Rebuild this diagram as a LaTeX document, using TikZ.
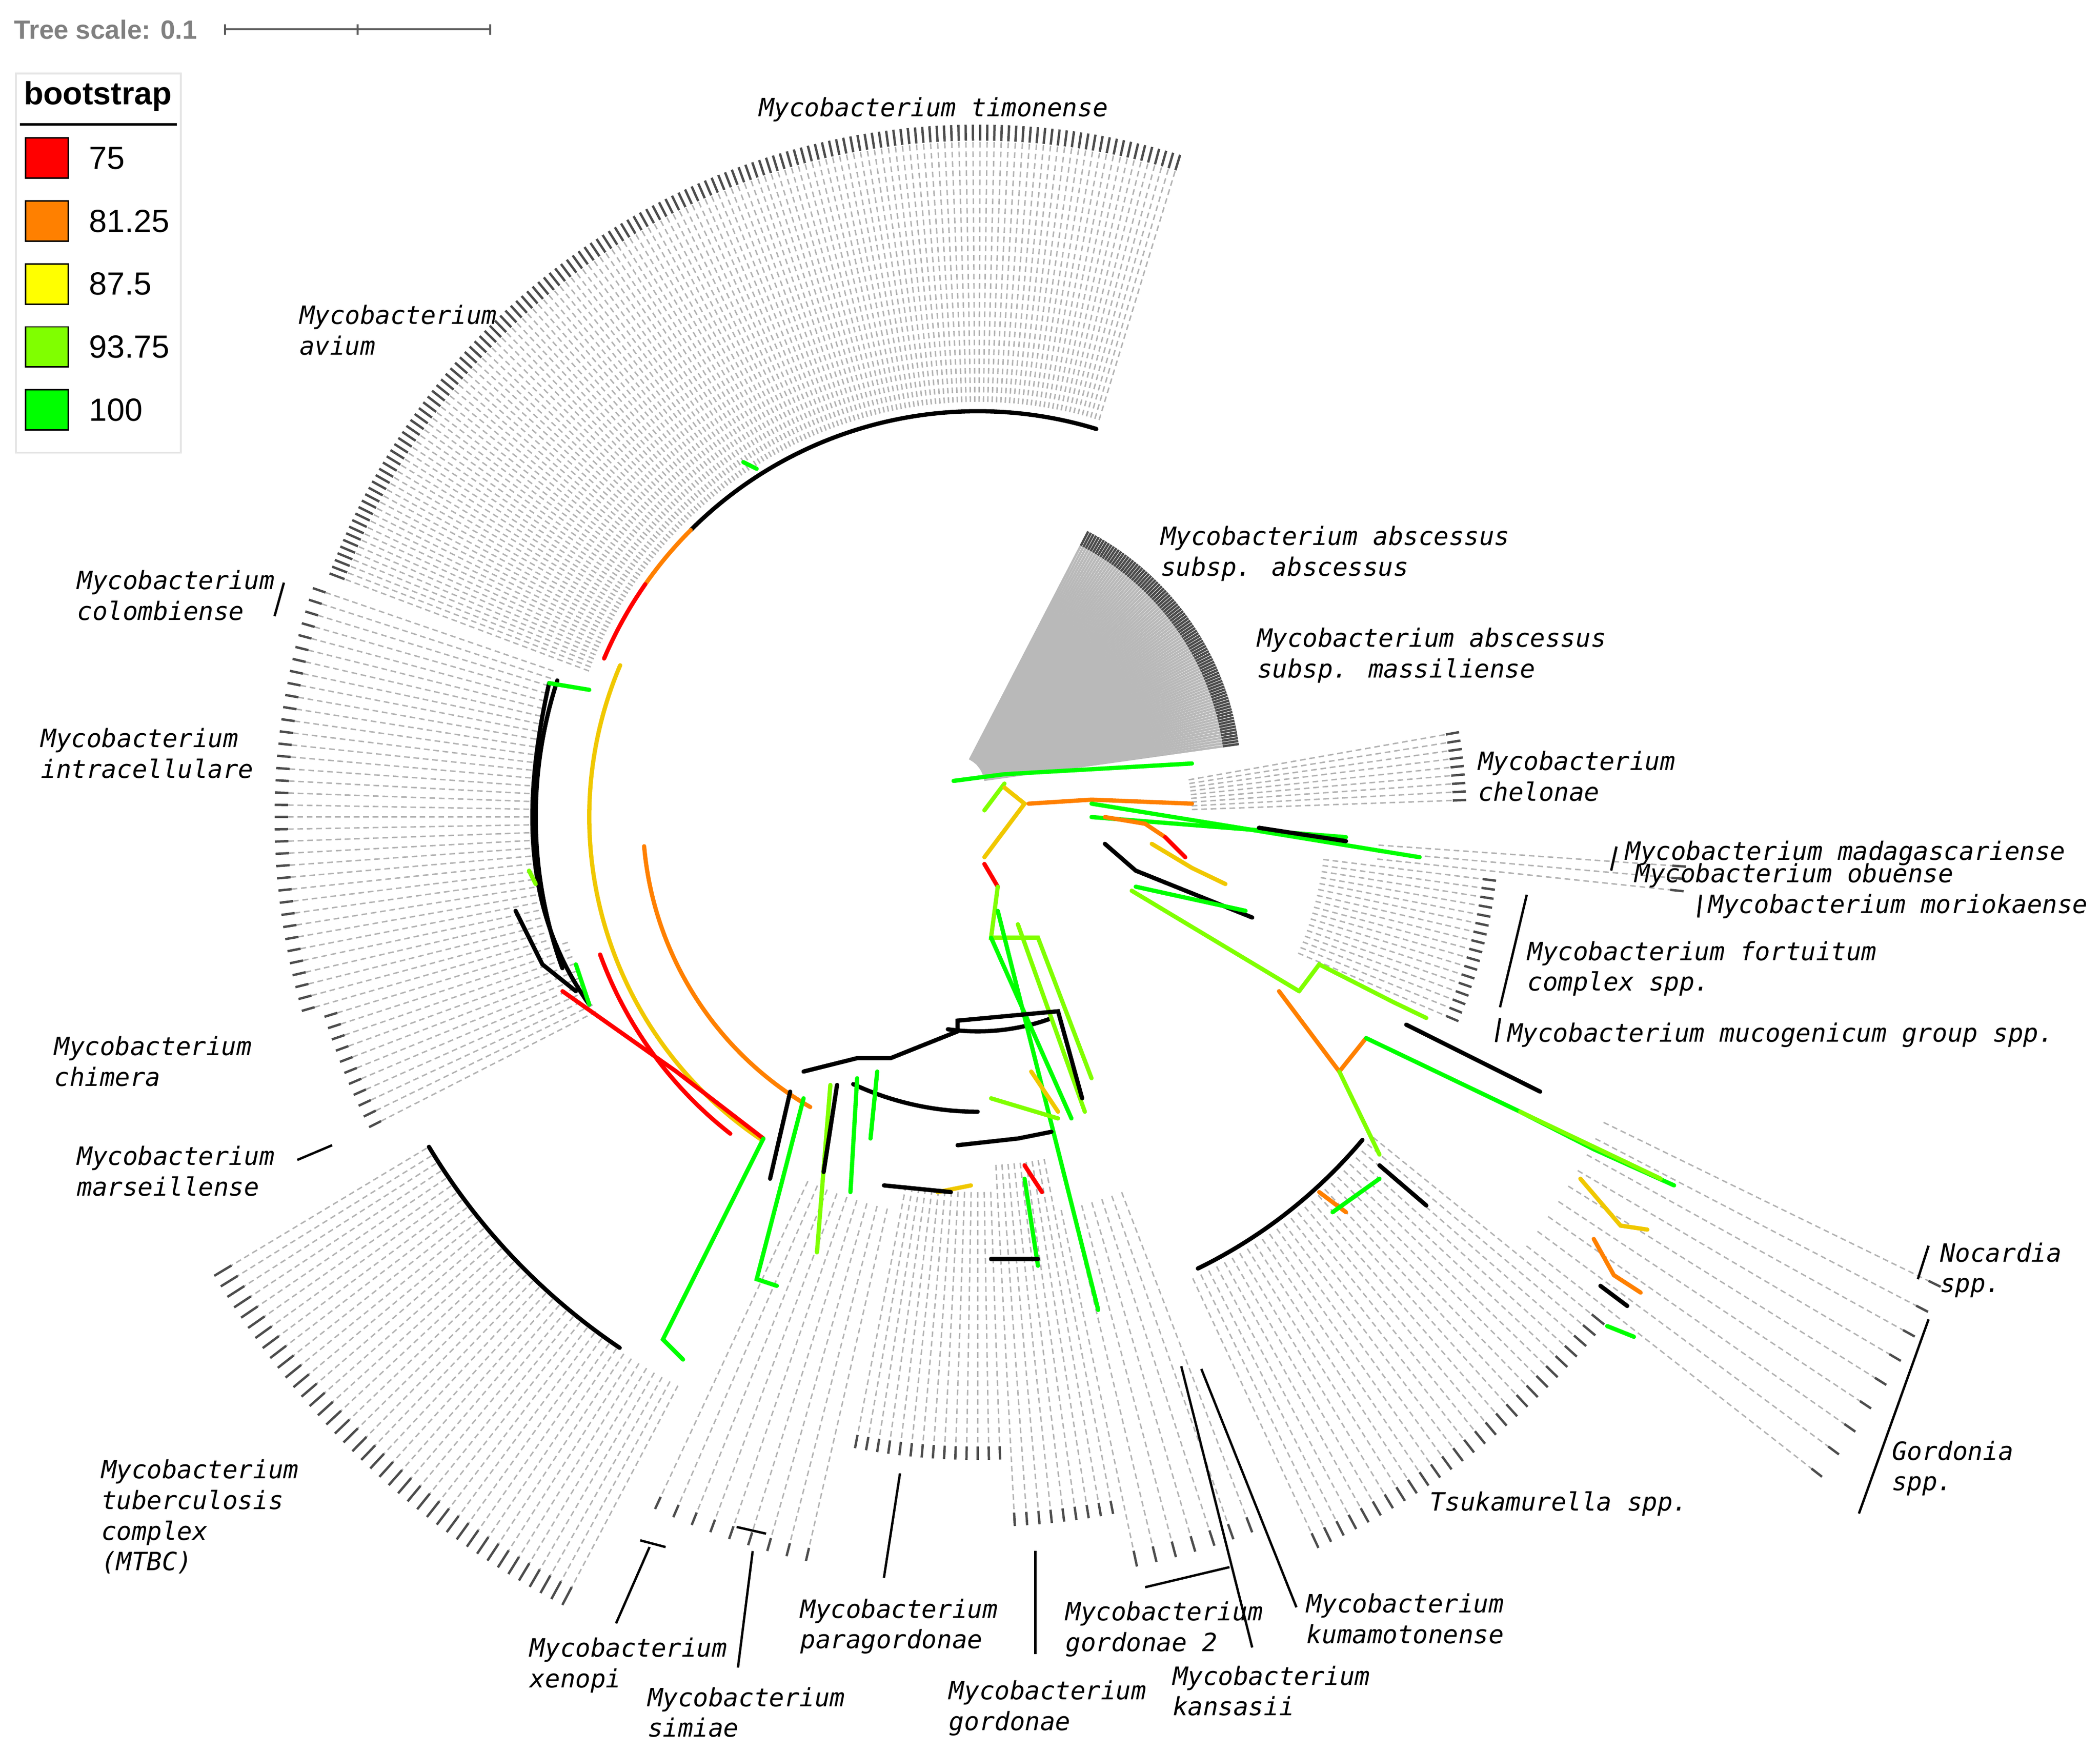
\documentclass[tikz,border=0pt]{standalone}
\usepackage{fontspec}
\setmainfont{Liberation Sans}
\newfontfamily\labfont{DejaVu Sans Mono}
\usetikzlibrary{positioning}
\definecolor{bsred}{RGB}{255,0,0}
\definecolor{bsorange}{RGB}{255,128,0}
\definecolor{bsyellow}{RGB}{255,255,0}
\definecolor{bslime}{RGB}{128,255,0}
\definecolor{bsgreen}{RGB}{0,255,0}
\definecolor{brY}{RGB}{240,200,0}
\begin{document}
\begin{tikzpicture}[x=0.01cm,y=-0.01cm,
  leaf/.style={gray!60,dash pattern=on 1.2pt off 0.8pt,line width=0.3pt},
  solidleaf/.style={gray!55,line width=0.5pt},
  tip/.style={black!70,line width=0.5pt},
  br/.style={line width=0.9pt,line cap=round},
  lab/.style={font=\labfont\itshape\fontsize{5.35}{6.5}\selectfont,align=left,anchor=north west,inner sep=0pt},
  pointer/.style={black,line width=0.5pt}]
\useasboundingbox (0,0) rectangle (1568,1308);
% scale bar
\node[font=\bfseries\fontsize{5.6}{6}\selectfont,text=gray,anchor=west,inner sep=0pt] (scaletxt) at (10,22) {Tree scale: 0.1};
\coordinate (sb1) at (168,22);
\coordinate (sb2) at (366,22);
\draw[gray!70!black,line width=0.4pt] (sb1) -- (sb2);
\foreach \x in {168,267,366} \draw[gray!70!black,line width=0.4pt] (\x,18) -- (\x,26);
% legend
\draw[gray!20,fill=white] (12,55) rectangle (135,338);
\node[font=\bfseries\fontsize{6.8}{7}\selectfont,inner sep=0pt] (legtitle) at (73,72) {bootstrap};
\draw[black,line width=0.5pt] (15,93) -- (132,93);
\foreach \c/\v [count=\i from 0] in {bsred/75,bsorange/81.25,bsyellow/87.5,bslime/93.75,bsgreen/100} {
  \draw[fill=\c,line width=0.3pt] (19,{103+47*\i}) rectangle (51,{133+47*\i});
  \node[anchor=west,font=\fontsize{6.8}{7}\selectfont,inner sep=0pt] (leg\i) at (66,{118+47*\i}) {\v};
}
% radial leaf lines
\begin{scope}[shift={(730,610)},yscale=-1]
  \foreach \a in {73,73.6,...,160} {\draw[leaf] (\a:310) -- (\a:505); \draw[tip] (\a:505) -- (\a:517);}
  \foreach \a in {161,162,...,196} {\draw[leaf] (\a:335) -- (\a:515); \draw[tip] (\a:515) -- (\a:525);}
  \foreach \a in {197,198,...,207} {\draw[leaf] (\a:320) -- (\a:500); \draw[tip] (\a:500) -- (\a:510);}
  \foreach \a in {211,211.8,...,243} {\draw[leaf] (\a:480) -- (\a:650); \draw[tip] (\a:650) -- (\a:665);}
  \foreach \a in {245,246.5,...,258} {\draw[leaf] (\a:300) -- (\a:560); \draw[tip] (\a:560) -- (\a:570);}
  \foreach \a in {259,260,...,272} {\draw[leaf] (\a:280) -- (\a:470); \draw[tip] (\a:470) -- (\a:480);}
  \foreach \a in {273,274,...,281} {\draw[leaf] (\a:260) -- (\a:520); \draw[tip] (\a:520) -- (\a:530);}
  \foreach \a in {282,283.5,...,292} {\draw[leaf] (\a:300) -- (\a:560); \draw[tip] (\a:560) -- (\a:572);}
  \foreach \a in {295,296,...,321} {\draw[leaf] (\a:380) -- (\a:590); \draw[tip] (\a:590) -- (\a:602);}
  \foreach \a in {322,323.5,...,334} {\draw[leaf] (\a:520) -- (\a:790); \draw[tip] (\a:790) -- (\a:800);}
  \foreach \a in {337,338,...,353} {\draw[leaf] (\a:260) -- (\a:380); \draw[tip] (\a:380) -- (\a:390);}
  \foreach \a in {354,355,356} {\draw[leaf] (\a:300) -- (\a:520); \draw[tip] (\a:520) -- (\a:530);}
  \foreach \a in {2,3,...,10} {\draw[leaf] (\a:160) -- (\a:355); \draw[tip] (\a:355) -- (\a:365);}
  % backbone arcs
  \draw[br,black] (73:303) arc[start angle=73,end angle=135,radius=303];
  \draw[br,bsorange] (135:303) arc[start angle=135,end angle=145,radius=303];
  \draw[br,bsred] (145:303) arc[start angle=145,end angle=157,radius=303];
  \draw[br,black] (162:330) arc[start angle=162,end angle=200,radius=330];
  \draw[br,brY] (157:290) arc[start angle=157,end angle=236,radius=290];
  \draw[br,bsorange] (185:250) arc[start angle=185,end angle=240,radius=250];
  \draw[br,bsred] (200:300) arc[start angle=200,end angle=232,radius=300];
  \draw[br,black] (211:478) arc[start angle=211,end angle=236,radius=478];
  \draw[br,black] (245:220) arc[start angle=245,end angle=270,radius=220];
  \draw[br,black] (296:375) arc[start angle=296,end angle=320,radius=375];
  \draw[br,black] (262:160) arc[start angle=262,end angle=290,radius=160];
\end{scope}
% abscessus fan
\begin{scope}[shift={(715,585)},yscale=-1]
  \foreach \a in {8,8.6,...,63} {\draw[solidleaf] (\a:20) -- (\a:200); \draw[tip] (\a:200) -- (\a:212);}
\end{scope}
% branches: right side
\draw[br,bsgreen] (712,583) -- (750,578) -- (890,570);
\draw[br,bslime] (735,605) -- (750,585);
\draw[br,brY] (735,640) -- (765,600) -- (750,588);
\draw[br,bsorange] (768,600) -- (815,597) -- (890,600);
\draw[br,bsgreen] (815,600) -- (1060,640);
\draw[br,bsgreen] (815,610) -- (1005,625);
\draw[br,black] (940,618) -- (1005,628);
\draw[br,bsorange] (825,610) -- (855,615) -- (870,625);
\draw[br,bsred] (870,625) -- (885,640);
\draw[br,brY] (860,630) -- (890,648) -- (915,660);
\draw[br,black] (825,630) -- (848,650) -- (935,685);
\draw[br,bsgreen] (848,662) -- (930,680);
\draw[br,bslime] (845,665) -- (970,740);
\draw[br,bslime] (970,740) -- (985,720) -- (1040,748) -- (1065,760);
\draw[br,black] (1050,765) -- (1150,815);
\draw[br,bsorange] (955,740) -- (1000,800) -- (1020,775);
\draw[br,bsgreen] (1020,775) -- (1135,830) -- (1190,858) -- (1250,885);
\draw[br,bslime] (1135,830) -- (1240,880);
\draw[br,brY] (1180,880) -- (1210,915) -- (1230,918);
\draw[br,bsorange] (1190,925) -- (1205,952) -- (1225,965);
\draw[br,black] (1195,960) -- (1215,975);
\draw[br,bsgreen] (1200,990) -- (1220,998);
\draw[br,bslime] (1000,800) -- (1030,862);
\draw[br,bsorange] (985,890) -- (1005,905);
\draw[br,bsgreen] (995,905) -- (1030,880);
\draw[br,black] (1030,870) -- (1065,900);
% branches: middle
\draw[br,bsred] (735,645) -- (745,662);
\draw[br,bslime] (745,662) -- (740,700) -- (775,700) -- (815,805);
\draw[br,bsgreen] (745,680) -- (820,978);
\draw[br,bsgreen] (740,700) -- (800,835);
\draw[br,bslime] (760,690) -- (810,830);
\draw[br,black] (715,770) -- (715,762) -- (790,755) -- (808,820);
\draw[br,brY] (770,800) -- (790,830);
\draw[br,bslime] (740,820) -- (790,835);
\draw[br,black] (715,855) -- (760,850) -- (785,845);
\draw[br,bsred] (765,870) -- (778,890);
\draw[br,bsgreen] (765,880) -- (775,945);
\draw[br,brY] (700,890) -- (725,885);
\draw[br,black] (660,885) -- (710,890);
\draw[br,black] (740,940) -- (775,940);
\draw[br,black] (600,800) -- (640,790) -- (665,790) -- (715,770);
% branches: left
\draw[br,bsred] (420,740) -- (505,800) -- (570,850);
\draw[br,bsgreen] (570,850) -- (495,1000) -- (510,1015);
\draw[br,bsgreen] (600,820) -- (565,955) -- (580,960);
\draw[br,bslime] (620,810) -- (610,935);
\draw[br,bsgreen] (640,805) -- (635,890);
\draw[br,black] (590,815) -- (575,880);
\draw[br,black] (625,810) -- (615,875);
\draw[br,bsgreen] (655,800) -- (650,850);
\draw[br,black] (410,510) .. controls (390,600) and (390,680) .. (440,750);
\draw[br,bsgreen] (410,510) -- (440,515);
\draw[br,black] (385,680) -- (405,720) -- (430,740);
\draw[br,bsgreen] (430,720) -- (440,750);
\draw[br,bslime] (395,650) -- (400,660);
\draw[br,bsgreen] (555,345) -- (565,350);
% labels
\node[lab,anchor=north] (timon) at (697,72) {Mycobacterium timonense};
\node[lab] (avium) at (223,227) {Mycobacterium\\avium};
\node[lab] (colomb) at (57,425) {Mycobacterium\\colombiense};
\node[lab] (intra) at (30,543) {Mycobacterium\\intracellulare};
\node[lab] (chim) at (40,773) {Mycobacterium\\chimera};
\node[lab] (marse) at (57,855) {Mycobacterium\\marseillense};
\node[lab] (mtbc) at (75,1089) {Mycobacterium\\tuberculosis\\complex\\(MTBC)};
\node[lab] (xen) at (395,1222) {Mycobacterium\\xenopi};
\node[lab] (sim) at (483,1259) {Mycobacterium\\simiae};
\node[lab] (parag) at (597,1193) {Mycobacterium\\paragordonae};
\node[lab] (gord) at (708,1254) {Mycobacterium\\gordonae};
\node[lab] (gord2) at (795,1195) {Mycobacterium\\gordonae 2};
\node[lab] (kans) at (875,1243) {Mycobacterium\\kansasii};
\node[lab] (kuma) at (975,1189) {Mycobacterium\\kumamotonense};
\node[lab] (tsuka) at (1067,1113) {Tsukamurella spp.};
\node[lab] (gordo) at (1412,1075) {Gordonia\\spp.};
\node[lab] (nocar) at (1448,927) {Nocardia\\spp.};
\node[lab] (mucog) at (1125,763) {Mycobacterium mucogenicum group spp.};
\node[lab] (fortu) at (1140,702) {Mycobacterium fortuitum\\complex spp.};
\node[lab] (morio) at (1275,667) {Mycobacterium moriokaense};
\node[lab] (obuen) at (1220,644) {Mycobacterium obuense};
\node[lab] (madag) at (1213,627) {Mycobacterium madagascariense};
\node[lab] (chelo) at (1103,560) {Mycobacterium\\chelonae};
\node[lab] (massi) at (938,468) {Mycobacterium abscessus\\subsp. massiliense};
\node[lab] (absce) at (866,392) {Mycobacterium abscessus\\subsp. abscessus};
% pointer lines
\draw[pointer] (205,460) -- (212,435);
\draw[pointer] (222,866) -- (248,855);
\draw[pointer] (460,1212) -- (485,1155);
\draw[pointer] (478,1150) -- (497,1155);
\draw[pointer] (551,1245) -- (562,1158);
\draw[pointer] (550,1140) -- (572,1145);
\draw[pointer] (660,1178) -- (672,1100);
\draw[pointer] (773,1235) -- (773,1158);
\draw[pointer] (855,1185) -- (918,1170);
\draw[pointer] (935,1230) -- (882,1020);
\draw[pointer] (968,1200) -- (897,1022);
\draw[pointer] (1388,1130) -- (1440,985);
\draw[pointer] (1432,955) -- (1440,930);
\draw[pointer] (1117,778) -- (1120,760);
\draw[pointer] (1120,752) -- (1140,668);
\draw[pointer] (1268,685) -- (1270,668);
\draw[pointer] (1203,650) -- (1207,632);
\end{tikzpicture}
\end{document}
